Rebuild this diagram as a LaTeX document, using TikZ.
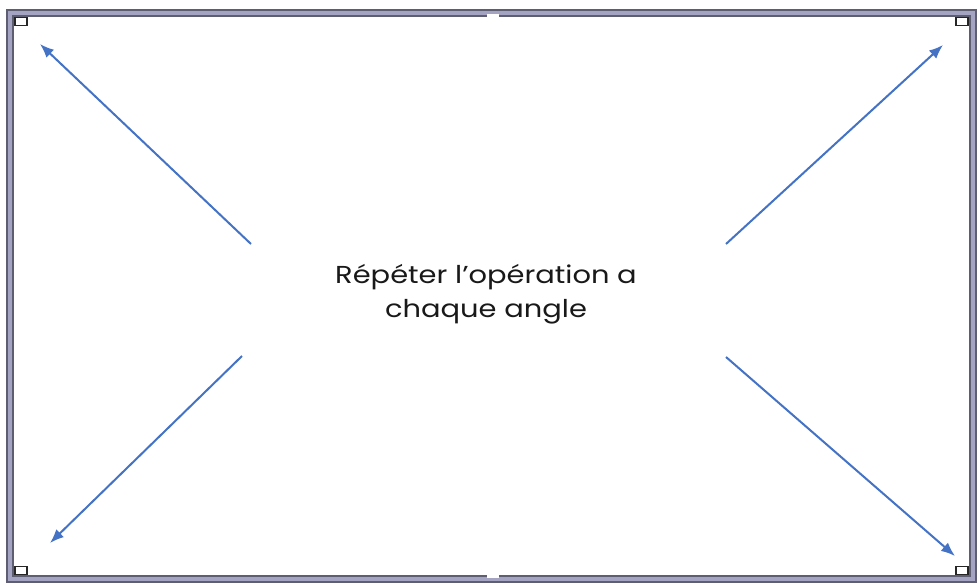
\documentclass[tikz,border=0pt]{standalone}
\usepackage{fontspec}
\setmainfont[FakeStretch=1.18]{Poppins}
\usepackage{xcolor}
\usetikzlibrary{arrows.meta, positioning}
\definecolor{arrowblue}{HTML}{4472C4}
\definecolor{framegray}{HTML}{5E5E72}
\definecolor{framelight}{HTML}{A4A4C2}

\begin{document}
\begin{tikzpicture}[
  x=1pt, y=-1pt,
  frame/.style={draw=framegray, line width=8pt},
  frameinner/.style={draw=framelight, line width=3.5pt},
  corner/.style={draw=black!85, line width=1.3pt},
  line/.style={draw, -{Latex[length=14pt, width=11pt]}, line width=2pt, color=arrowblue},
  label/.style={align=center, font=\fontsize{24.5}{34}\selectfont, text=black!90}
]
  \useasboundingbox (0,0) rectangle (977,582);
  \fill[white] (0,0) rectangle (977,582);

  % frame
  \draw [frame] (10,13) rectangle (973,579);
  \draw [frameinner] (10,13) rectangle (973,579);
  \fill [white] (487,14) rectangle (499,17);
  \fill [white] (487,575) rectangle (499,578);

  % corner marks
  \draw [corner] (15,17.5) rectangle (27,25.5);
  \draw [corner] (956,17.5) rectangle (968,25.5);
  \draw [corner] (15,566.5) rectangle (27,574.5);
  \draw [corner] (956,566.5) rectangle (968,574.5);

  % text
  \node [label] (msg) at (486,294) {Répéter l’opération a\\chaque angle};

  % arrows
  \coordinate (tlstart) at (251,244);
  \coordinate (tlend) at (40,44);
  \coordinate (trstart) at (726,244);
  \coordinate (trend) at (943,45);
  \coordinate (blstart) at (242,356);
  \coordinate (blend) at (50,543);
  \coordinate (brstart) at (726,357);
  \coordinate (brend) at (955,556);

  \path [line] (tlstart) -- (tlend);
  \path [line] (trstart) -- (trend);
  \path [line] (blstart) -- (blend);
  \path [line] (brstart) -- (brend);

\end{tikzpicture}
\end{document}
